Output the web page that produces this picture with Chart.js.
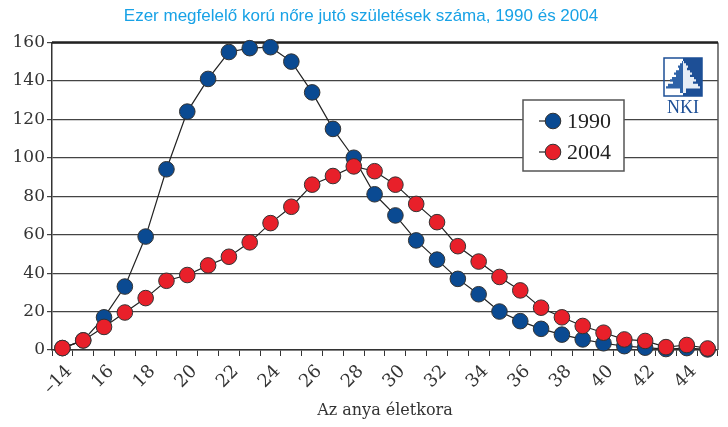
<!DOCTYPE html>
<html>
<head>
<meta charset="utf-8">
<script src="https://cdn.jsdelivr.net/npm/chart.js@4.4.0/dist/chart.umd.min.js"></script>
<style>
    html, body { margin: 0; padding: 0; background: #fff; }
    #wrap { width: 728px; height: 427px; }
</style>
</head>
<body>
<div id="wrap"><canvas id="chart"></canvas></div>
<script>
// Mother's age (14 = "up to 14")
const ages = ['14', '15', '16', '17', '18', '19', '20', '21', '22', '23', '24', '25', '26', '27', '28', '29',
              '30', '31', '32', '33', '34', '35', '36', '37', '38', '39', '40', '41', '42', '43', '44', '45'];
// labels shown on every second category
const tickLabels = ['–14', '16', '18', '20', '22', '24', '26', '28', '30', '32', '34', '36', '38', '40', '42', '44'];
const yTicks = [0, 20, 40, 60, 80, 100, 120, 140, 160];

// Births per 1000 women of the given age
const births1990 = [1, 5, 17, 33, 59, 94, 124, 141, 155, 157, 157.5, 150, 134, 115, 100, 81,
                    70, 57, 47, 37, 29, 20, 15, 11, 8, 5.5, 3.5, 2, 1.2, 0.5, 1, 0.3];
const births2004 = [1, 5, 12, 19.5, 27, 36, 39, 44, 48.5, 56, 66, 74.5, 86, 90.5, 95.5, 93,
                    86, 76, 66.5, 54, 46, 38, 31, 22, 17, 12.5, 9, 5.5, 4.7, 1.5, 2.6, 0.8];

const serif = "'DejaVu Serif', serif";

// Top and right frame of the plot area
const framePlugin = {
    id: 'frame',
    beforeDatasetsDraw(chart) {
        const { ctx, chartArea: a } = chart;
        ctx.save();
        ctx.strokeStyle = '#555';
        ctx.lineWidth = 1.5;
        ctx.beginPath();
        ctx.moveTo(a.right, a.top);
        ctx.lineTo(a.right, a.bottom);
        ctx.stroke();
        ctx.strokeStyle = '#222';
        ctx.lineWidth = 2.5;
        ctx.beginPath();
        ctx.moveTo(a.left, a.top);
        ctx.lineTo(a.right, a.top);
        ctx.stroke();
        ctx.restore();
    }
};

// Boxed legend inside the plot
const boxLegend = {
    id: 'boxLegend',
    afterDraw(chart) {
        const ctx = chart.ctx;
        const x = 523, y = 100, w = 101, h = 71;
        ctx.save();
        ctx.fillStyle = '#fff';
        ctx.fillRect(x, y, w, h);
        ctx.strokeStyle = '#555';
        ctx.lineWidth = 1.5;
        ctx.strokeRect(x, y, w, h);
        chart.data.datasets.forEach((ds, i) => {
            const cy = y + 21 + i * 31;
            ctx.strokeStyle = '#222';
            ctx.lineWidth = 1.2;
            ctx.beginPath();
            ctx.moveTo(x + 16, cy);
            ctx.lineTo(x + 38, cy);
            ctx.stroke();
            ctx.beginPath();
            ctx.arc(x + 30, cy, 7.8, 0, Math.PI * 2);
            ctx.fillStyle = ds.pointBackgroundColor;
            ctx.fill();
            ctx.strokeStyle = '#333';
            ctx.lineWidth = 1;
            ctx.stroke();
            ctx.fillStyle = '#222';
            ctx.font = "22px 'Liberation Serif', serif";
            ctx.textBaseline = 'middle';
            ctx.fillText(ds.label, x + 44, cy + 1);
        });
        ctx.restore();
    }
};

// NKI logo in the top right corner
const logoPlugin = {
    id: 'logo',
    afterDraw(chart) {
        const ctx = chart.ctx;
        const x = 664, y = 58, s = 38, cx = x + s / 2;
        const blue = '#1d4f96';
        ctx.save();
        ctx.fillStyle = blue;
        ctx.fillRect(cx, y, s / 2, s);
        // stepped tree outline: half widths from top to bottom
        const rows = [1, 3, 5, 4, 7, 9, 7, 11, 13, 10, 15, 17, 3, 3];
        const step = (s - 6) / rows.length;
        ['left', 'right'].forEach(side => {
            const dir = side === 'left' ? -1 : 1;
            ctx.beginPath();
            ctx.moveTo(cx, y + 3);
            rows.forEach((r, i) => {
                ctx.lineTo(cx + dir * r, y + 3 + i * step);
                ctx.lineTo(cx + dir * r, y + 3 + (i + 1) * step);
            });
            ctx.lineTo(cx, y + 3 + rows.length * step);
            ctx.closePath();
            ctx.fillStyle = side === 'left' ? '#2f63a8' : '#e6edf6';
            ctx.fill();
        });
        ctx.strokeStyle = blue;
        ctx.lineWidth = 1.5;
        ctx.strokeRect(x, y, s, s);
        ctx.fillStyle = blue;
        ctx.font = "18px 'Liberation Serif', serif";
        ctx.textAlign = 'center';
        ctx.textBaseline = 'top';
        ctx.fillText('NKI', cx, y + s + 3);
        ctx.restore();
    }
};

new Chart(document.getElementById('chart'), {
    type: 'line',
    data: {
        labels: ages,
        datasets: [
            {
                label: '1990',
                data: births1990,
                borderColor: '#222',
                borderWidth: 1.2,
                pointRadius: 7.8,
                pointHoverRadius: 7.8,
                pointBackgroundColor: '#0a4a92',
                pointBorderColor: '#333',
                pointBorderWidth: 1,
                tension: 0,
                clip: false,
                order: 2
            },
            {
                label: '2004',
                data: births2004,
                borderColor: '#222',
                borderWidth: 1.2,
                pointRadius: 7.8,
                pointHoverRadius: 7.8,
                pointBackgroundColor: '#e8202a',
                pointBorderColor: '#333',
                pointBorderWidth: 1,
                tension: 0,
                clip: false,
                order: 1
            }
        ]
    },
    options: {
        responsive: true,
        maintainAspectRatio: false,
        animation: false,
        layout: { padding: { left: 0, right: 6, top: 0, bottom: 0 } },
        plugins: {
            legend: { display: false },
            tooltip: { enabled: false },
            title: {
                display: true,
                text: 'Ezer megfelelő korú nőre jutó születések száma, 1990 és 2004',
                color: '#18a2e6',
                font: { family: "'Liberation Sans', Arial, sans-serif", size: 17, weight: 'normal' },
                padding: { top: 6, bottom: 16 }
            }
        },
        scales: {
            x: {
                offset: true,
                grid: { offset: true, drawOnChartArea: false, tickLength: 6, color: '#333', lineWidth: 1 },
                border: { color: '#333', width: 1.5 },
                ticks: {
                    autoSkip: false,
                    maxRotation: 45,
                    minRotation: 45,
                    padding: 5,
                    labelOffset: 7,
                    color: '#333',
                    font: { family: serif, size: 18 },
                    callback: (v, i) => (i % 2 === 0 ? tickLabels[i / 2] : '')
                },
                title: {
                    display: true,
                    text: 'Az anya életkora',
                    color: '#333',
                    font: { family: serif, size: 16 },
                    padding: { top: 0, bottom: 7 }
                },
                afterFit: scale => { scale.height = 77; }
            },
            y: {
                min: 0,
                max: 160,
                afterBuildTicks: scale => { scale.ticks = yTicks.map(v => ({ value: v })); },
                grid: { color: '#444', lineWidth: 1.2, tickLength: 5 },
                border: { color: '#333', width: 1.5 },
                ticks: {
                    padding: 2,
                    color: '#333',
                    font: { family: serif, size: 17 }
                },
                afterFit: scale => { scale.width = 52; }
            }
        }
    },
    plugins: [framePlugin, boxLegend, logoPlugin]
});
</script>
</body>
</html>
